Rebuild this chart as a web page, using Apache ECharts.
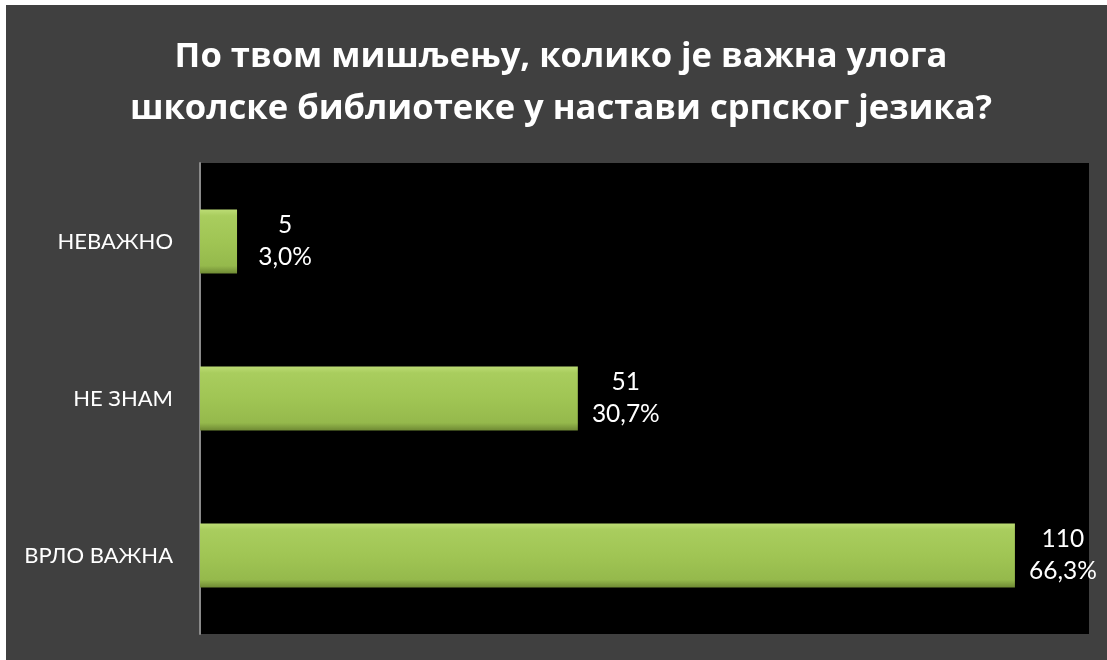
<!DOCTYPE html>
<html><head><meta charset="utf-8">
<script src="https://cdn.jsdelivr.net/npm/echarts@6/dist/echarts.min.js"></script>
<style>html,body{margin:0;padding:0;background:#fff;width:1107px;height:660px;overflow:hidden}
#c{position:absolute;left:6px;top:5px;width:1101px;height:655px}</style>
</head><body><div id="c"></div>
<script>
const titleLines = ['По твом мишљењу, колико је важна улога', 'школске библиотеке у настави српског језика?'];
const categories = ['ВРЛО ВАЖНА', 'НЕ ЗНАМ', 'НЕВАЖНО'];
const counts = [110, 51, 5];
const percents = ['66,3%', '30,7%', '3,0%'];

const chart = echarts.init(document.getElementById('c'));
chart.setOption({
  backgroundColor: '#404040',
  animation: false,
  title: {
    text: titleLines.join('\n'),
    left: 550, top: 21, textAlign: 'center',
    textStyle: {color: '#fff', fontFamily: 'Open Sans', fontWeight: 'bold', fontSize: 34.6, lineHeight: 52}
  },
  grid: {left: 194, top: 158, right: 18, bottom: 26, show: true, backgroundColor: '#000', borderWidth: 0},
  xAxis: {type: 'value', min: 0, max: 120, show: false},
  yAxis: {
    type: 'category', data: categories,
    axisLine: {show: true, lineStyle: {color: '#8a8a8a', width: 2}},
    axisTick: {show: false},
    axisLabel: {color: '#fff', fontFamily: 'Lato', fontSize: 22, margin: 27}
  },
  series: [{
    type: 'bar',
    data: counts,
    barWidth: 64,
    itemStyle: {
      color: new echarts.graphic.LinearGradient(0, 0, 0, 1, [
        {offset: 0, color: '#bcdc74'},
        {offset: 0.1, color: '#a9cd5e'},
        {offset: 0.5, color: '#a0c554'},
        {offset: 0.88, color: '#95b94c'},
        {offset: 1, color: '#6f8a34'}
      ])
    },
    label: {
      show: true, position: 'right', distance: 14,
      formatter: p => '{a|' + counts[p.dataIndex] + '}\n{a|' + percents[p.dataIndex] + '}',
      rich: {a: {color: '#fff', fontFamily: 'Lato', fontSize: 24.5, lineHeight: 32, width: 68, align: 'center'}}
    }
  }]
});
</script></body></html>
